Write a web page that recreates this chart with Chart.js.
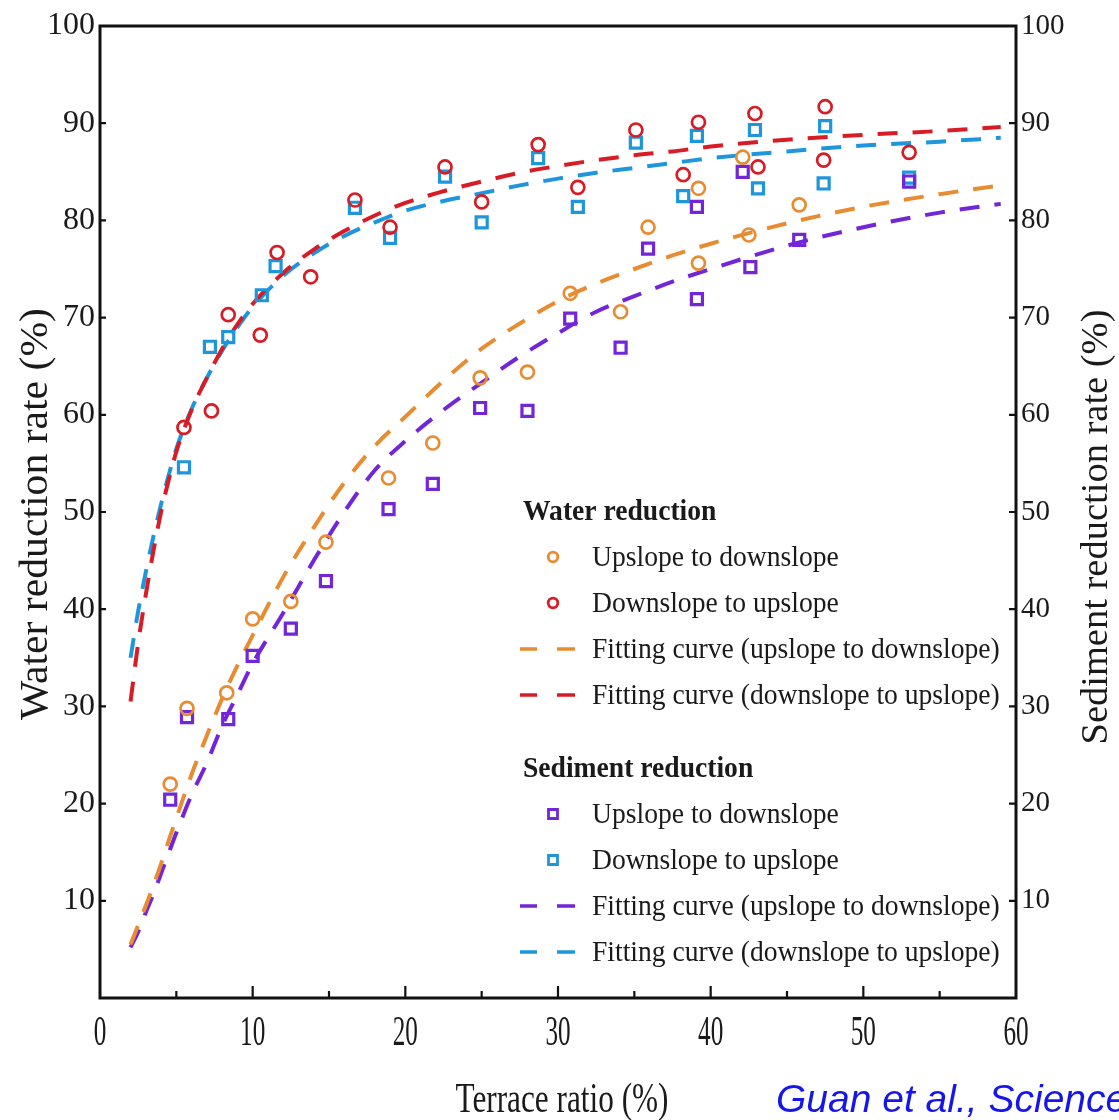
<!DOCTYPE html>
<html>
<head>
<meta charset="utf-8">
<title>Terrace ratio and reduction rates</title>
<script src="https://cdn.jsdelivr.net/npm/chart.js@4.4.1/dist/chart.umd.min.js"></script>
<style>
  html, body { margin: 0; padding: 0; background: #fff; }
  canvas { display: block; }
</style>
</head>
<body>
<canvas id="chart" width="1119" height="1120"></canvas>
<script>
// Measured points: terrace ratio (%) vs reduction rate (%)
const waterUpX = [4.6, 5.7, 8.3, 10.0, 12.5, 14.8, 18.9, 21.8, 24.9, 28.0, 30.8, 34.1, 35.9, 39.2, 39.2, 42.1, 42.5, 45.8];
const waterUpY = [22.0, 29.8, 31.4, 39.0, 40.8, 46.9, 53.5, 57.1, 63.8, 64.4, 72.5, 70.6, 79.3, 75.6, 83.3, 86.5, 78.5, 81.6];

const waterDownX = [5.5, 7.3, 8.4, 10.5, 11.6, 13.8, 16.7, 19.0, 22.6, 25.0, 28.7, 31.3, 35.1, 38.2, 39.2, 42.9, 43.1, 47.5, 47.4, 53.0];
const waterDownY = [58.7, 60.4, 70.3, 68.2, 76.7, 74.2, 82.1, 79.3, 85.5, 81.9, 87.8, 83.4, 89.3, 84.7, 90.1, 91.0, 85.5, 91.7, 86.2, 87.0];

const sedUpX = [4.6, 5.7, 8.4, 10.0, 12.5, 14.8, 18.9, 21.8, 24.9, 28.0, 30.8, 34.1, 35.9, 39.1, 39.1, 42.1, 42.6, 45.8, 53.0];
const sedUpY = [20.4, 28.9, 28.7, 35.2, 38.0, 42.9, 50.3, 52.9, 60.7, 60.4, 69.9, 66.9, 77.1, 71.9, 81.4, 85.0, 75.2, 78.0, 84.0];

const sedDownX = [5.5, 7.2, 8.4, 10.6, 11.5, 16.7, 19.0, 22.6, 25.0, 28.7, 31.3, 35.1, 38.2, 39.1, 42.9, 43.1, 47.5, 47.4, 53.0];
const sedDownY = [54.6, 67.0, 68.0, 72.3, 75.3, 81.3, 78.2, 84.5, 79.8, 86.4, 81.4, 88.0, 82.5, 88.7, 89.3, 83.3, 89.7, 83.8, 84.4];

// Fitting curves, sampled along the terrace ratio
const fitX = [2, 2.5, 3, 3.5, 4, 4.5, 5, 6, 7, 8, 9, 10, 12, 14, 16, 18, 20, 22.5, 25, 27.5, 30, 32.5, 35, 37.5, 40, 45, 50, 55, 59];
const fitWaterUp = [5.5, 7.5, 9.5, 11.6, 13.8, 16.2, 18.5, 23.0, 27.0, 30.8, 34.2, 37.3, 43.3, 48.4, 53.0, 56.8, 59.8, 63.5, 66.8, 69.4, 71.7, 73.5, 75.0, 76.4, 77.6, 79.7, 81.4, 82.7, 83.6];
const fitWaterDown = [30.5, 36.5, 41.5, 46.0, 50.0, 53.3, 56.2, 60.5, 63.8, 66.8, 69.3, 71.4, 74.6, 77.0, 78.9, 80.5, 81.8, 83.0, 84.0, 84.9, 85.6, 86.2, 86.7, 87.1, 87.6, 88.3, 88.8, 89.2, 89.6];
const fitSedUp = [5.2, 6.8, 8.8, 10.7, 12.8, 14.9, 17.0, 20.9, 24.2, 28.0, 31.2, 34.4, 39.6, 45.0, 50.0, 54.3, 57.3, 60.5, 63.3, 66.0, 68.4, 70.6, 72.2, 73.7, 75.0, 77.4, 79.3, 80.8, 81.7];
const fitSedDown = [35.0, 39.8, 43.8, 47.5, 50.8, 53.8, 56.5, 60.6, 63.8, 66.6, 69.0, 71.1, 74.3, 76.6, 78.4, 79.8, 81.0, 82.0, 82.8, 83.6, 84.3, 84.9, 85.4, 85.9, 86.4, 87.1, 87.7, 88.1, 88.5];

const yTicks = [0, 10, 20, 30, 40, 50, 60, 70, 80, 90, 100];

const ORANGE = '#e88c32';
const RED = '#d71c26';
const PURPLE = '#7325d8';
const BLUE = '#1f96dc';
const SERIF = '"Liberation Serif", "Times New Roman", serif';

const pts = (xs, ys) => xs.map((x, i) => ({ x, y: ys[i] }));

function markers(label, xs, ys, color, style, axis) {
  const square = style === 'rect';
  return {
    label,
    data: pts(xs, ys),
    yAxisID: axis,
    showLine: false,
    pointStyle: style,
    pointRadius: square ? 7.8 : 6.5,
    pointHoverRadius: square ? 7.8 : 6.5,
    pointBorderWidth: square ? 3.2 : 2.7,
    pointBorderColor: color,
    pointBackgroundColor: 'rgba(255,255,255,0)',
    order: 1,
  };
}

function curve(label, ys, color, axis) {
  return {
    label,
    data: pts(fitX, ys),
    yAxisID: axis,
    showLine: true,
    borderColor: color,
    borderWidth: 4,
    borderDash: [20, 15],
    cubicInterpolationMode: 'monotone',
    pointRadius: 0,
    pointHoverRadius: 0,
    fill: false,
    order: 2,
  };
}

const datasets = [
  markers('Upslope to downslope', waterUpX, waterUpY, ORANGE, 'circle', 'y'),
  markers('Downslope to upslope', waterDownX, waterDownY, RED, 'circle', 'y'),
  curve('Fitting curve (upslope to downslope)', fitWaterUp, ORANGE, 'y'),
  curve('Fitting curve (downslope to upslope)', fitWaterDown, RED, 'y'),
  markers('Upslope to downslope', sedUpX, sedUpY, PURPLE, 'rect', 'y2'),
  markers('Downslope to upslope', sedDownX, sedDownY, BLUE, 'rect', 'y2'),
  curve('Fitting curve (upslope to downslope)', fitSedUp, PURPLE, 'y2'),
  curve('Fitting curve (downslope to upslope)', fitSedDown, BLUE, 'y2'),
];

// text helper: horizontally condensed serif text like the printed figure
function drawText(ctx, text, x, y, font, opts = {}) {
  ctx.save();
  ctx.font = font;
  ctx.fillStyle = opts.color || '#1a1a1a';
  ctx.textAlign = opts.align || 'left';
  ctx.textBaseline = opts.baseline || 'alphabetic';
  ctx.translate(x, y);
  if (opts.rotate) ctx.rotate(opts.rotate);
  let sx = opts.sx || 1;
  if (opts.width) sx = opts.width / ctx.measureText(text).width;
  ctx.scale(sx, 1);
  ctx.fillText(text, 0, 0);
  ctx.restore();
}

// groups of legend rows: header + 2 marker rows + 2 curve rows
const legendGroups = [
  { title: 'Water reduction', sets: [0, 1, 2, 3] },
  { title: 'Sediment reduction', sets: [4, 5, 6, 7] },
];

const frameAndLegend = {
  id: 'frameAndLegend',
  afterDraw(chart) {
    const { ctx, chartArea: a, scales } = chart;
    const xs = scales.x, yl = scales.y, yr = scales.y2;

    // box and inward ticks
    ctx.save();
    ctx.strokeStyle = '#111';
    ctx.lineWidth = 3;
    ctx.strokeRect(a.left, a.top, a.right - a.left, a.bottom - a.top);
    ctx.lineWidth = 2.2;
    ctx.beginPath();
    xs.ticks.forEach(t => {
      if (t.value <= xs.min || t.value >= xs.max) return;
      const px = xs.getPixelForValue(t.value);
      const len = t.value % 10 === 0 ? 12 : 7;
      ctx.moveTo(px, a.bottom);
      ctx.lineTo(px, a.bottom - len);
    });
    yl.ticks.forEach(t => {
      if (t.value <= yl.min || t.value >= yl.max) return;
      const py = yl.getPixelForValue(t.value);
      ctx.moveTo(a.left, py);
      ctx.lineTo(a.left + 6, py);
    });
    yr.ticks.forEach(t => {
      if (t.value <= yr.min || t.value >= yr.max) return;
      const py = yr.getPixelForValue(t.value);
      ctx.moveTo(a.right, py);
      ctx.lineTo(a.right - 7, py);
    });
    ctx.stroke();
    ctx.restore();

    // x tick labels
    xs.ticks.forEach(t => {
      if (t.value % 10 !== 0) return;
      drawText(ctx, String(t.value), xs.getPixelForValue(t.value), a.bottom + 47,
        '42px ' + SERIF, { align: 'center', sx: 0.6 });
    });

    // axis titles
    drawText(ctx, 'Terrace ratio (%)', (a.left + a.right) / 2 + 4, a.bottom + 114,
      '42px ' + SERIF, { align: 'center', width: 213 });
    drawText(ctx, 'Water reduction rate (%)', 36, 514,
      '40px ' + SERIF, { align: 'center', baseline: 'middle', rotate: -Math.PI / 2, width: 412 });
    drawText(ctx, 'Sediment reduction rate (%)', 1097, 527,
      '38px ' + SERIF, { align: 'center', baseline: 'middle', rotate: -Math.PI / 2, width: 435 });

    drawText(ctx, 'Guan et al., Science', 776, 1112,
      'italic 39px "Liberation Sans", Arial, sans-serif', { color: '#1616e8' });

    // legend
    const headX = 523, symX = 553, textX = 592;
    let base = 520;
    legendGroups.forEach((g, gi) => {
      if (gi > 0) base += 73;
      drawText(ctx, g.title, headX, base, 'bold 30px ' + SERIF, { sx: 0.92 });
      g.sets.forEach(idx => {
        base += 46;
        const ds = chart.data.datasets[idx];
        const cy = base - 9;
        ctx.save();
        if (ds.showLine) {
          ctx.strokeStyle = ds.borderColor;
          ctx.lineWidth = 3.6;
          ctx.beginPath();
          ctx.moveTo(symX - 33, cy); ctx.lineTo(symX - 16, cy);
          ctx.moveTo(symX + 4, cy); ctx.lineTo(symX + 22, cy);
          ctx.stroke();
        } else {
          ctx.strokeStyle = ds.pointBorderColor;
          ctx.lineWidth = 2.8;
          ctx.beginPath();
          if (ds.pointStyle === 'rect') ctx.rect(symX - 4.5, cy - 4.5, 9, 9);
          else ctx.arc(symX, cy, 4.8, 0, Math.PI * 2);
          ctx.stroke();
        }
        ctx.restore();
        drawText(ctx, ds.label, textX, base, '30px ' + SERIF, { sx: 0.92 });
      });
    });
  },
};

const yScale = (position, width, size) => ({
  type: 'linear',
  position,
  min: 0,
  max: 100,
  afterBuildTicks(scale) { scale.ticks = yTicks.map(v => ({ value: v })); },
  afterFit(scale) { scale.width = width; },
  grid: { display: false, drawTicks: false },
  border: { display: false },
  ticks: {
    padding: 5,
    color: '#1a1a1a',
    font: { family: SERIF, size },
    callback: v => (v === 0 ? '' : v),
  },
});

new Chart(document.getElementById('chart'), {
  type: 'scatter',
  data: { datasets },
  options: {
    responsive: false,
    animation: false,
    layout: { padding: { top: 26, left: 0, right: 0, bottom: 0 } },
    plugins: {
      legend: { display: false },
      tooltip: { enabled: false },
    },
    scales: {
      x: {
        type: 'linear',
        min: 0,
        max: 60,
        afterFit(scale) { scale.height = 122; },
        grid: { display: false, drawTicks: false },
        border: { display: false },
        ticks: { display: false, stepSize: 5 },
      },
      y: yScale('left', 100, 32),
      y2: yScale('right', 103, 29),
    },
  },
  plugins: [frameAndLegend],
});
</script>
</body>
</html>
